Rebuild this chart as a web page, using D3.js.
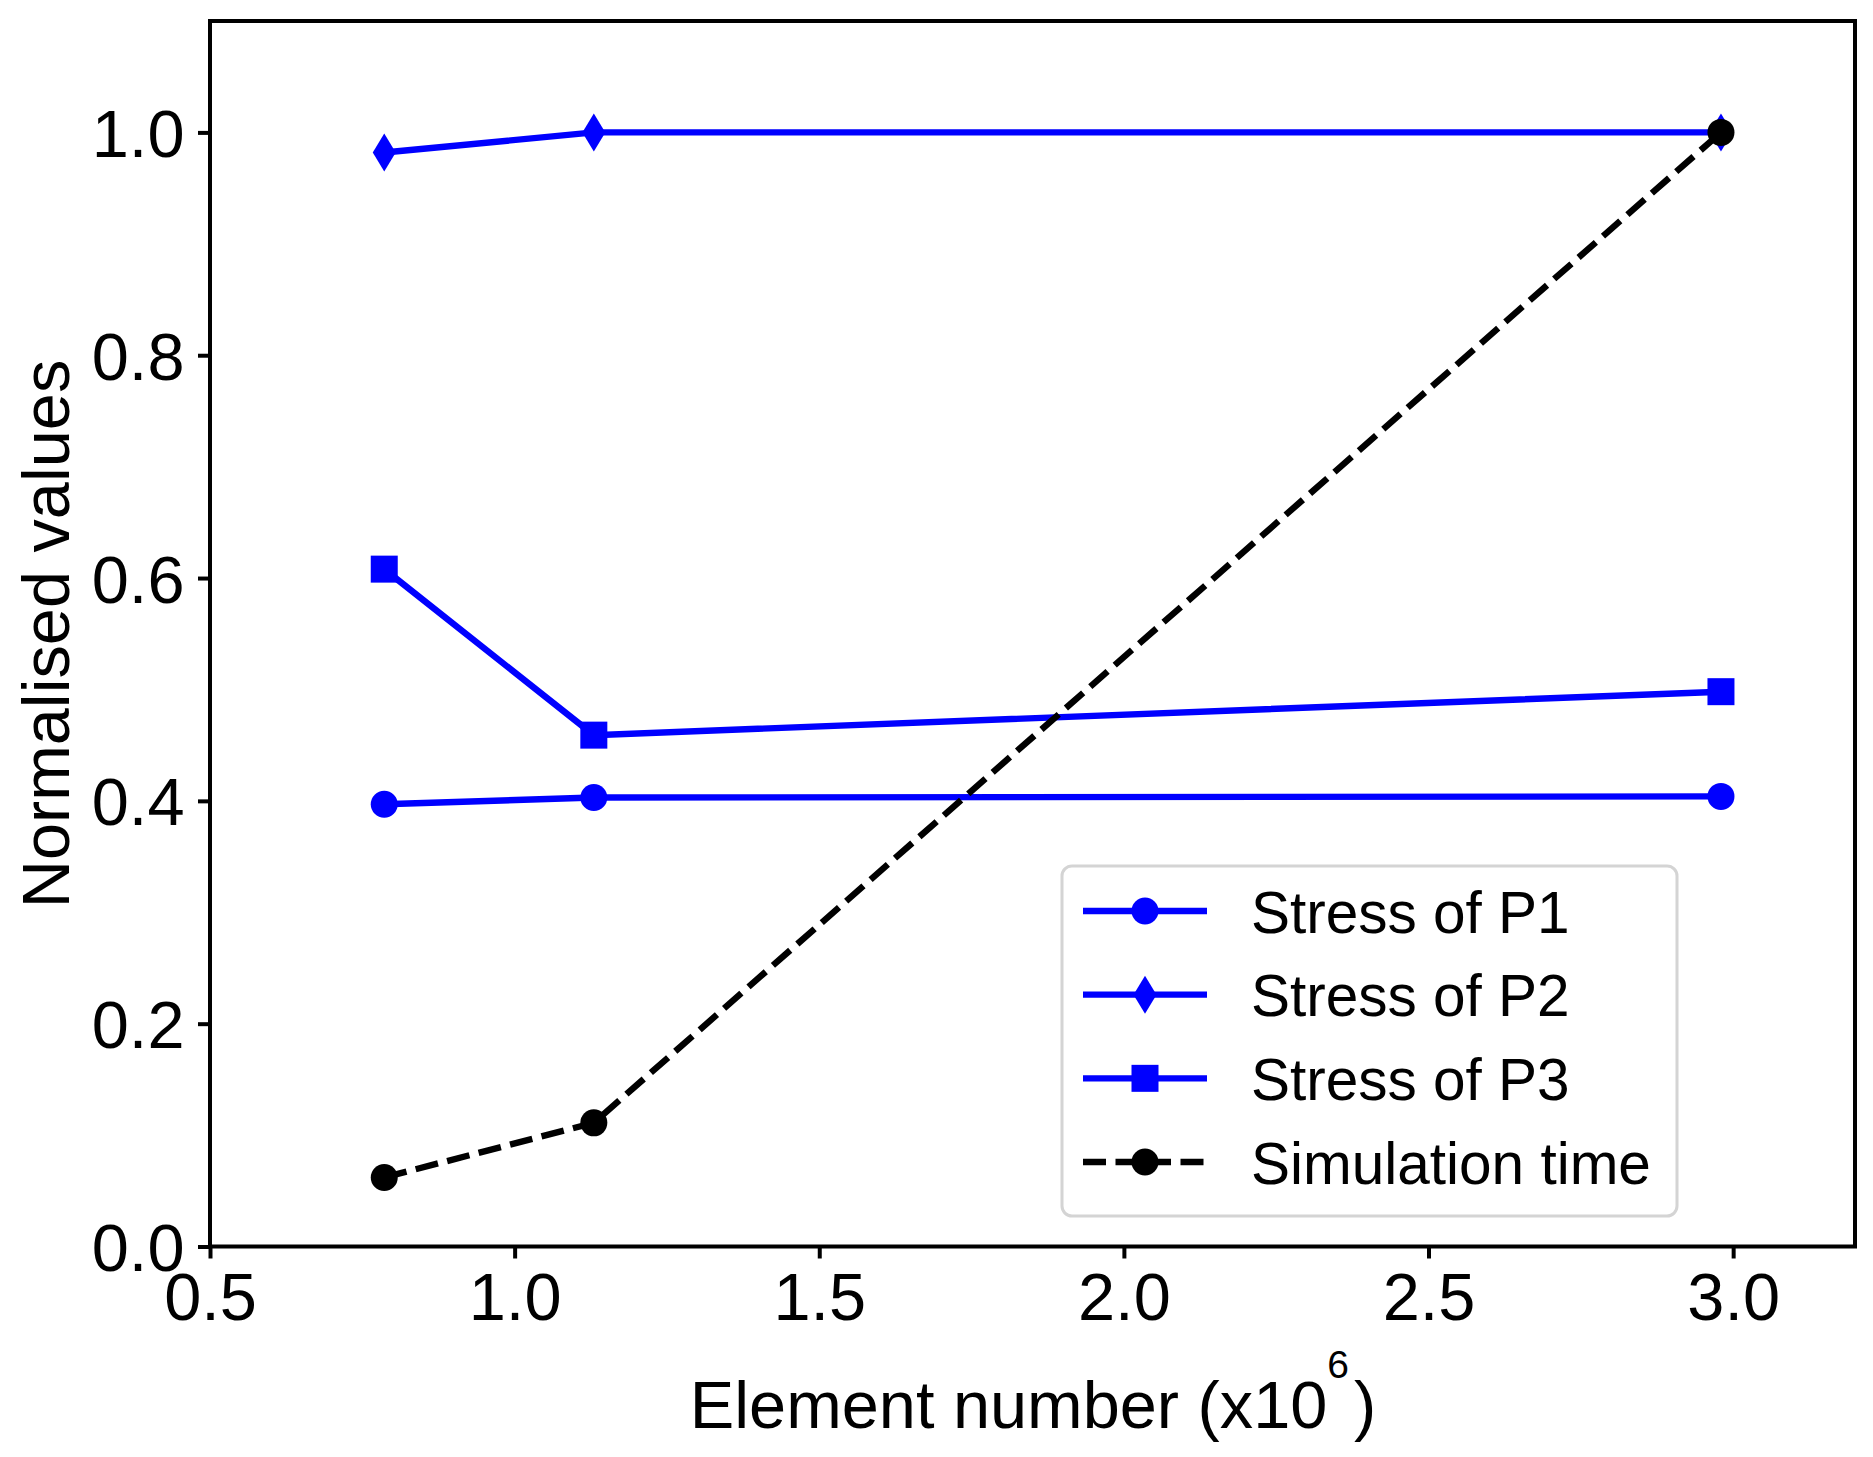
<!DOCTYPE html>
<html>
<head>
<meta charset="utf-8">
<script src="https://cdn.jsdelivr.net/npm/d3@7"></script>
<style>
  body { margin: 0; background: #fff; }
  text { font-family: "Liberation Sans", Arial, sans-serif; fill: #000; }
</style>
</head>
<body>
<div id="chart"></div>
<script>
// values
var elements = [0.786, 1.13, 2.98];
var stressP1 = [0.397, 0.403, 0.404];
var stressP2 = [0.982, 1.0, 1.0];
var stressP3 = [0.608, 0.459, 0.498];
var simTime = [0.062, 0.111, 1.0];
var seriesNames = ["Stress of P1", "Stress of P2", "Stress of P3", "Simulation time"];
var xTicks = [0.5, 1.0, 1.5, 2.0, 2.5, 3.0];
var yTicks = [0.0, 0.2, 0.4, 0.6, 0.8, 1.0];

var width = 1873, height = 1457;
var plotLeft = 210, plotRight = 1855, plotTop = 21, plotBottom = 1246.5;

var svg = d3.select("#chart").append("svg")
	.attr("width", width)
	.attr("height", height);
svg.append("rect").attr("width", width).attr("height", height).attr("fill", "#fff");

var x = d3.scaleLinear().domain([0.5, 3.2]).range([plotLeft, plotRight]);
var y = d3.scaleLinear().domain([0, 1.1]).range([plotBottom, plotTop]);

// thin diamond like matplotlib's 'd'
function thinDiamond(h, w) {
	return "M0," + (-h / 2) + "L" + (w / 2) + ",0L0," + (h / 2) + "L" + (-w / 2) + ",0Z";
}
var circlePath = d3.symbol().type(d3.symbolCircle).size(Math.PI * 13.5 * 13.5)();
var squarePath = d3.symbol().type(d3.symbolSquare).size(27 * 27)();
var diamondPath = thinDiamond(38, 23);

var series = [
	{ name: seriesNames[0], values: stressP1, color: "#0000ff", dash: null, marker: circlePath },
	{ name: seriesNames[1], values: stressP2, color: "#0000ff", dash: null, marker: diamondPath },
	{ name: seriesNames[2], values: stressP3, color: "#0000ff", dash: null, marker: squarePath },
	{ name: seriesNames[3], values: simTime, color: "#000000", dash: "23,9.5", marker: circlePath }
];

var line = d3.line()
	.x(function (d) { return x(d[0]); })
	.y(function (d) { return y(d[1]); });

series.forEach(function (s) {
	var pts = elements.map(function (e, i) { return [e, s.values[i]]; });
	var g = svg.append("g");
	g.append("path")
		.attr("d", line(pts))
		.attr("fill", "none")
		.attr("stroke", s.color)
		.attr("stroke-width", 6.4)
		.attr("stroke-dasharray", s.dash);
	g.selectAll("path.mk").data(pts).enter().append("path")
		.attr("class", "mk")
		.attr("d", s.marker)
		.attr("fill", s.color)
		.attr("transform", function (d) { return "translate(" + x(d[0]) + "," + y(d[1]) + ")"; });
});

// axes
var xAxis = svg.append("g").attr("transform", "translate(0," + plotBottom + ")")
	.call(d3.axisBottom(x).tickValues(xTicks).tickSize(12).tickFormat(d3.format(".1f")));
xAxis.selectAll("text").attr("y", 73).attr("dy", null);

var yAxis = svg.append("g").attr("transform", "translate(" + plotLeft + ",0)")
	.call(d3.axisLeft(y).tickValues(yTicks).tickSize(12).tickFormat(d3.format(".1f")));
yAxis.selectAll("text").attr("x", -25.5).attr("dy", 24);

[xAxis, yAxis].forEach(function (a) {
	a.select(".domain").remove();
	a.selectAll("line").attr("stroke", "#000").attr("stroke-width", 4);
	a.selectAll("text").attr("font-size", 66.7).attr("font-family", null).attr("fill", "#000");
});

svg.append("rect")
	.attr("x", plotLeft).attr("y", plotTop)
	.attr("width", plotRight - plotLeft).attr("height", plotBottom - plotTop)
	.attr("fill", "none").attr("stroke", "#000").attr("stroke-width", 4);

// axis labels
var xl = svg.append("text").attr("x", 1033).attr("y", 1428)
	.attr("text-anchor", "middle").attr("font-size", 66.7);
xl.append("tspan").text("Element number (x10");
xl.append("tspan").attr("dy", -50).attr("font-size", 39).text("6");
xl.append("tspan").attr("dy", 50).attr("dx", 5).text(")");

svg.append("text")
	.attr("transform", "translate(69,634) rotate(-90)")
	.attr("text-anchor", "middle").attr("font-size", 66.7)
	.text("Normalised values");

// legend
var legend = svg.append("g");
legend.append("rect")
	.attr("x", 1062).attr("y", 866).attr("width", 615).attr("height", 350)
	.attr("rx", 10).attr("fill", "#fff").attr("stroke", "#d4d4d4").attr("stroke-width", 3);

var rowY = d3.scalePoint().domain(seriesNames).range([911, 1162]);
series.forEach(function (s) {
	var yy = rowY(s.name);
	legend.append("line")
		.attr("x1", 1083).attr("x2", 1207).attr("y1", yy).attr("y2", yy)
		.attr("stroke", s.color).attr("stroke-width", 6.4)
		.attr("stroke-dasharray", s.dash);
	legend.append("path")
		.attr("d", s.marker).attr("fill", s.color)
		.attr("transform", "translate(1145," + yy + ")");
	legend.append("text")
		.attr("x", 1251).attr("y", yy + 21.5)
		.attr("font-size", 58.5)
		.text(s.name);
});
</script>
</body>
</html>
